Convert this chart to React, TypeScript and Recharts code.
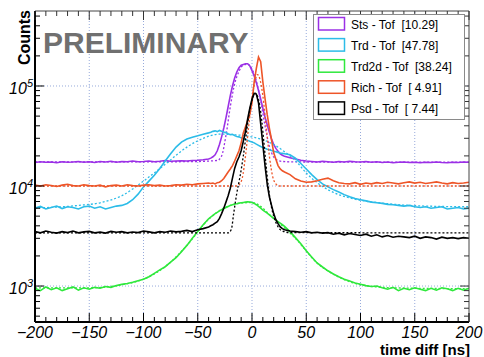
import React from "react";
import { LineChart, Line, XAxis, YAxis, ReferenceLine } from "recharts";

// bin centres (ns): coarse in the flat parts, finer around the peak
const timeNs = [
  -200, -195, -190, -185, -180, -175, -170, -165, -160, -155, -150, -145, -140, -135, -130, -125, -120,
  -115, -110, -105, -100, -95, -90, -85, -80, -75, -70, -65, -60, -55, -50, -45, -40,
  -38, -36, -34, -32, -30, -28, -26, -24, -22, -20, -18, -16, -14, -12, -10, -8, -6, -4, -2, 0,
  2, 4, 6, 8, 10, 12, 14, 16, 18, 20, 22, 24, 26, 28, 30,
  35, 40, 45, 50, 55, 60, 65, 70, 75, 80, 85, 90, 95, 100, 105, 110, 115, 120, 125, 130, 135, 140,
  145, 150, 155, 160, 165, 170, 175, 180, 185, 190, 195, 200,
];

const stsCounts = [
  17200, 17500, 17300, 17400, 17100, 17500, 17300, 17400, 17600, 17300, 17500, 17200, 17600, 17400, 17700, 17300, 17600,
  17500, 17800, 17500, 17600, 17800, 17500, 17700, 18000, 17700, 17800, 17900, 17800, 18000, 18100, 18300, 18600,
  19000, 19600, 20500, 22500, 26000, 31000, 38000, 48000, 62000, 80000, 100000, 120000, 138000, 152000, 161000, 164000, 167000, 167000, 159000, 142000,
  126000, 108000, 90000, 74000, 60000, 49000, 41000, 34500, 29500, 26000, 23800, 22200, 21000, 20300, 19800,
  19200, 18600, 18100, 17800, 17600, 17400, 17700, 17500, 17300, 17600, 17400, 17700, 17500, 17400, 17600, 17300, 17500, 17200, 17400, 17100, 17300, 17400,
  17200, 17300, 17100, 17300, 17200, 17400, 17200, 17100, 17300, 17200, 17400, 17300,
];

const trdCounts = [
  6000, 6250, 5900, 6100, 6300, 5950, 6200, 6100, 5900, 6200, 6300, 6000, 6200, 5900, 6100, 6300, 6400,
  6700, 7300, 8300, 9800, 11200, 12800, 15000, 17800, 21000, 24500, 27500, 29500, 30800, 31800, 33000, 34000,
  34500, 35200, 35600, 35000, 35900, 35200, 34600, 34200, 33300, 32600, 32900, 31900, 31300, 31000, 30300, 29800, 29200, 28600, 28000, 27500,
  27000, 26200, 25500, 24800, 24200, 23800, 23300, 23000, 22600, 22300, 22000, 21700, 21400, 21200, 21000,
  20500, 19000, 16800, 14800, 13000, 11600, 10500, 9800, 9200, 8700, 8200, 7800, 7500, 7300, 7100, 6900, 6800, 6700, 6550, 6500, 6400, 6300,
  6400, 6200, 6100, 6200, 6000, 6100, 6200, 5900, 6000, 6100, 5900, 6000,
];

const trd2dCounts = [
  950, 900, 980, 920, 960, 900, 940, 980, 910, 960, 930, 970, 950, 990, 970, 1010, 1040,
  1060, 1090, 1130, 1170, 1240, 1340, 1450, 1560, 1730, 1920, 2200, 2550, 3000, 3500, 4100, 4700,
  4900, 5100, 5300, 5450, 5650, 5800, 5950, 6100, 6250, 6400, 6500, 6600, 6650, 6750, 6800, 6850, 6900, 6950, 6900, 6850,
  6700, 6500, 6250, 6000, 5750, 5550, 5350, 5150, 4950, 4750, 4550, 4400, 4250, 4100, 3950,
  3500, 3050, 2650, 2250, 1950, 1700, 1550, 1420, 1320, 1240, 1170, 1120, 1070, 1040, 1010, 990, 1000, 960, 930, 970, 900, 950,
  920, 960, 930, 900, 950, 910, 960, 940, 900, 950, 910, 950,
];

const richCounts = [
  10200, 10000, 10300, 10100, 9900, 10200, 10400, 10100, 10000, 10300, 10100, 10000, 10200, 9800, 10100, 10200, 10000,
  10300, 10100, 10000, 10200, 10300, 10100, 10200, 10000, 10100, 10300, 10200, 10400, 10300, 10500, 10600, 10700,
  10600, 10700, 10500, 10800, 10900, 11300, 11900, 12800, 13800, 14800, 16000, 17800, 20000, 22500, 27000, 34000, 39000, 45000, 52000, 68000,
  110000, 150000, 195000, 175000, 110000, 75000, 52000, 38000, 29000, 21500, 18500, 16000, 14800, 14200, 13800,
  13000, 11800, 11200, 10900, 11000, 11300, 11700, 12000, 11300, 10800, 10600, 10500, 10800, 10400, 10700, 10500, 10800, 10600, 10900, 10700, 10500, 10800,
  11000, 10700, 10900, 10600, 10800, 11000, 10700, 10500, 10800, 10600, 10700, 10900,
];

const psdCounts = [
  3500, 3400, 3550, 3450, 3380, 3500, 3420, 3550, 3400, 3480, 3520, 3400, 3460, 3380, 3520, 3450, 3500,
  3400, 3470, 3420, 3550, 3480, 3400, 3500, 3450, 3550, 3480, 3520, 3600, 3500, 3650, 3750, 3900,
  4000, 4100, 4250, 4400, 4750, 5300, 6000, 6900, 8000, 9500, 12000, 15000, 17500, 19500, 22500, 28000, 35000, 47000, 60000, 74000,
  84000, 83000, 68000, 42000, 26000, 16000, 10500, 7800, 6400, 5300, 4600, 4200, 3900, 3750, 3650,
  3550, 3500, 3450, 3500, 3400, 3450, 3380, 3420, 3300, 3380, 3250, 3350, 3280, 3200, 3300, 3150, 3250, 3100, 3200, 3080, 3150, 3100,
  3050, 3150, 3000, 3100, 3050, 2950, 3080, 3000, 3050, 2980, 3050, 3000,
];

// fit curves (dotted)
const stsFitT = [-200, -60, -32, -28, -24, -20, -16, -12, -8, -4, 0, 4, 8, 12, 16, 20, 24, 28, 40, 200];
const stsFitV = [17400, 17500, 18000, 20000, 32000, 62000, 105000, 140000, 162000, 165000, 148000, 112000, 72000, 40000, 25000, 19500, 18000, 17600, 17400, 17300];

const trdFitT = [-200, -180, -160, -140, -120, -100, -80, -60, -45, -30, -15, 0, 10, 20, 30, 40, 50, 60, 70, 80, 90, 100, 120, 140, 160, 200];
const trdFitV = [6050, 6150, 6400, 6800, 8000, 11200, 16500, 24500, 30000, 33000, 32500, 31000, 29000, 26000, 22000, 18000, 13500, 10800, 9200, 8200, 7600, 7200, 6750, 6450, 6300, 6200];

const trd2dFitT = [-200, -150, -120, -100, -80, -60, -40, -20, 0, 20, 40, 60, 80, 100, 130, 200];
const trd2dFitV = [960, 960, 1030, 1170, 1560, 2550, 4650, 6400, 6850, 4750, 3000, 1700, 1230, 1030, 960, 940];

const richFitT = [-200, -15, -12, -9, -6, -3, 0, 3, 5, 7, 10, 13, 16, 19, 22, 25, 200];
const richFitV = [10000, 10000, 10300, 12000, 20000, 40000, 75000, 115000, 130000, 120000, 80000, 40000, 20000, 12500, 10500, 10000, 10000];

const psdFitT = [-200, -22, -19, -17, -14, -11, -8, -5, -2, 1, 3, 5, 7, 9, 11, 13, 15, 17, 20, 23, 27, 35, 200];
const psdFitV = [3400, 3400, 3700, 5200, 8500, 12500, 20000, 35000, 58000, 78000, 85000, 80000, 65000, 45000, 27000, 16000, 10000, 7000, 5000, 4100, 3600, 3420, 3400];

const xTicks = [
  -200, -190, -180, -170, -160, -150, -140, -130, -120, -110, -100, -90, -80, -70, -60, -50, -40, -30, -20, -10, 0,
  10, 20, 30, 40, 50, 60, 70, 80, 90, 100, 110, 120, 130, 140, 150, 160, 170, 180, 190, 200,
];
const xGrid = [-150, -100, -50, 0, 50, 100, 150];
const yMajor = [1000, 10000, 100000];
const yTicks = [
  500, 600, 700, 800, 900, 1000, 2000, 3000, 4000, 5000, 6000, 7000, 8000, 9000, 10000,
  20000, 30000, 40000, 50000, 60000, 70000, 80000, 90000, 100000, 200000, 300000, 400000, 500000,
];
const yDomain = [437, 562000];

const series = [
  { key: "sts", label: "Sts - Tof  [10.29]", color: "#9b30e6", fitT: stsFitT, fitV: stsFitV },
  { key: "trd", label: "Trd - Tof  [47.78]", color: "#2cbce8", fitT: trdFitT, fitV: trdFitV },
  { key: "trd2d", label: "Trd2d - Tof  [38.24]", color: "#2fe83c", fitT: trd2dFitT, fitV: trd2dFitV },
  { key: "rich", label: "Rich - Tof  [ 4.91]", color: "#ee5528", fitT: richFitT, fitV: richFitV },
  { key: "psd", label: "Psd - Tof  [ 7.44]", color: "#000000", fitT: psdFitT, fitV: psdFitV },
];

const rows = timeNs.map((t, i) => ({
  t,
  sts: stsCounts[i],
  trd: trdCounts[i],
  trd2d: trd2dCounts[i],
  rich: richCounts[i],
  psd: psdCounts[i],
}));

const FONT = "'Liberation Sans', Arial, Helvetica, sans-serif";
const GRID = "#97aadb";

const fmtX = (v: number) => (v < 0 ? "\u2212" + Math.abs(v) : String(v));

function BottomTick({ x, y, payload }: any) {
  const major = payload.value % 50 === 0;
  return (
    <g>
      <line x1={x} x2={x} y1={y} y2={y - (major ? 9 : 5)} stroke="#000" strokeWidth={1} />
      {major && (
        <text x={x} y={y + 16} textAnchor="middle" fontSize={16} fontStyle="italic" fontFamily={FONT} fill="#000">
          {fmtX(payload.value)}
        </text>
      )}
    </g>
  );
}

function TopTick({ x, y, payload }: any) {
  const major = payload.value % 50 === 0;
  return <line x1={x} x2={x} y1={y} y2={y + (major ? 9 : 5)} stroke="#333" strokeWidth={1} />;
}

function LeftTick({ x, y, payload }: any) {
  const major = yMajor.includes(payload.value);
  const exp = Math.round(Math.log10(payload.value));
  return (
    <g>
      <line x1={x} x2={x + (major ? 9 : 5)} y1={y} y2={y} stroke="#000" strokeWidth={1} />
      {major && (
        <text x={x - 2} y={y + 8} textAnchor="end" fontSize={16} fontStyle="italic" fontFamily={FONT} fill="#000">
          10
          <tspan dy={-7} fontSize={11}>
            {exp}
          </tspan>
        </text>
      )}
    </g>
  );
}

function RightTick({ x, y, payload }: any) {
  const major = yMajor.includes(payload.value);
  return <line x1={x - (major ? 9 : 5)} x2={x} y1={y} y2={y} stroke="#333" strokeWidth={1} />;
}

export default function App() {
  return (
    <div style={{ position: "absolute", left: 0, top: 0, width: 484, height: 357, background: "#fff", fontFamily: FONT }}>
      <LineChart width={484} height={357} data={rows} margin={{ top: 10, right: 14, bottom: 0, left: 0 }}>
        <XAxis
          dataKey="t"
          type="number"
          domain={[-200, 200]}
          ticks={xTicks}
          interval={0}
          height={35}
          tickSize={0}
          tickMargin={0}
          tickLine={false}
          tick={(p: any) => <BottomTick {...p} />}
          axisLine={{ stroke: "#000", strokeWidth: 2 }}
          allowDataOverflow
        />
        <XAxis
          xAxisId="top"
          orientation="top"
          dataKey="t"
          type="number"
          domain={[-200, 200]}
          ticks={xTicks}
          interval={0}
          height={1}
          tickSize={0}
          tickMargin={0}
          tickLine={false}
          tick={(p: any) => <TopTick {...p} />}
          axisLine={{ stroke: "#444", strokeWidth: 1 }}
          allowDataOverflow
        />
        <YAxis
          scale="log"
          domain={yDomain}
          ticks={yTicks}
          interval={0}
          width={35}
          tickSize={0}
          tickMargin={0}
          tickLine={false}
          tick={(p: any) => <LeftTick {...p} />}
          axisLine={{ stroke: "#000", strokeWidth: 2 }}
          allowDataOverflow
        />
        <YAxis
          yAxisId="r"
          orientation="right"
          scale="log"
          domain={yDomain}
          ticks={yTicks}
          interval={0}
          width={1}
          tickSize={0}
          tickMargin={0}
          tickLine={false}
          tick={(p: any) => <RightTick {...p} />}
          axisLine={{ stroke: "#444", strokeWidth: 1 }}
          allowDataOverflow
        />

        {xGrid.map((v) => (
          <ReferenceLine key={"gx" + v} x={v} stroke={GRID} strokeDasharray="1 2" />
        ))}
        {yMajor.map((v) => (
          <ReferenceLine key={"gy" + v} y={v} stroke={GRID} strokeDasharray="1 2" />
        ))}

        {series.map((s) => [
          <Line
            key={s.key}
            dataKey={s.key}
            type="linear"
            stroke={s.color}
            strokeWidth={1.6}
            dot={false}
            isAnimationActive={false}
          />,
          <Line
            key={s.key + "-fit"}
            data={s.fitT.map((t, i) => ({ t, v: s.fitV[i] }))}
            dataKey="v"
            type="monotone"
            stroke={s.color}
            strokeWidth={1.3}
            strokeDasharray="2 2"
            dot={false}
            isAnimationActive={false}
          />,
        ])}
      </LineChart>

      <svg width={484} height={357} style={{ position: "absolute", left: 0, top: 0, pointerEvents: "none" }}>
        <text x={43} y={53} fontSize={30} fontWeight="bold" fill="#707070" fontFamily={FONT}>
          PRELIMINARY
        </text>
        <text x={30} y={10} transform="rotate(-90 30 10)" textAnchor="end" fontSize={16} fontWeight="bold" fontFamily={FONT}>
          Counts
        </text>
        <text x={470} y={355} textAnchor="end" fontSize={15} fontWeight="bold" fontFamily={FONT}>
          time diff [ns]
        </text>

        <rect x={313.5} y={14.5} width={151} height={105} fill="#fff" stroke="#8a8a8a" strokeWidth={1} />
        {series.map((s, i) => (
          <g key={"lg" + s.key}>
            <rect x={318.5} y={17.5 + i * 21.1} width={26} height={12.5} fill="#fff" stroke={s.color} strokeWidth={1.5} />
            <text
              x={351}
              y={29 + i * 21.1}
              fontSize={12}
              fontFamily={FONT}
              fill="#000"
              style={{ whiteSpace: "pre" }}
            >
              {s.label}
            </text>
          </g>
        ))}
      </svg>
    </div>
  );
}
